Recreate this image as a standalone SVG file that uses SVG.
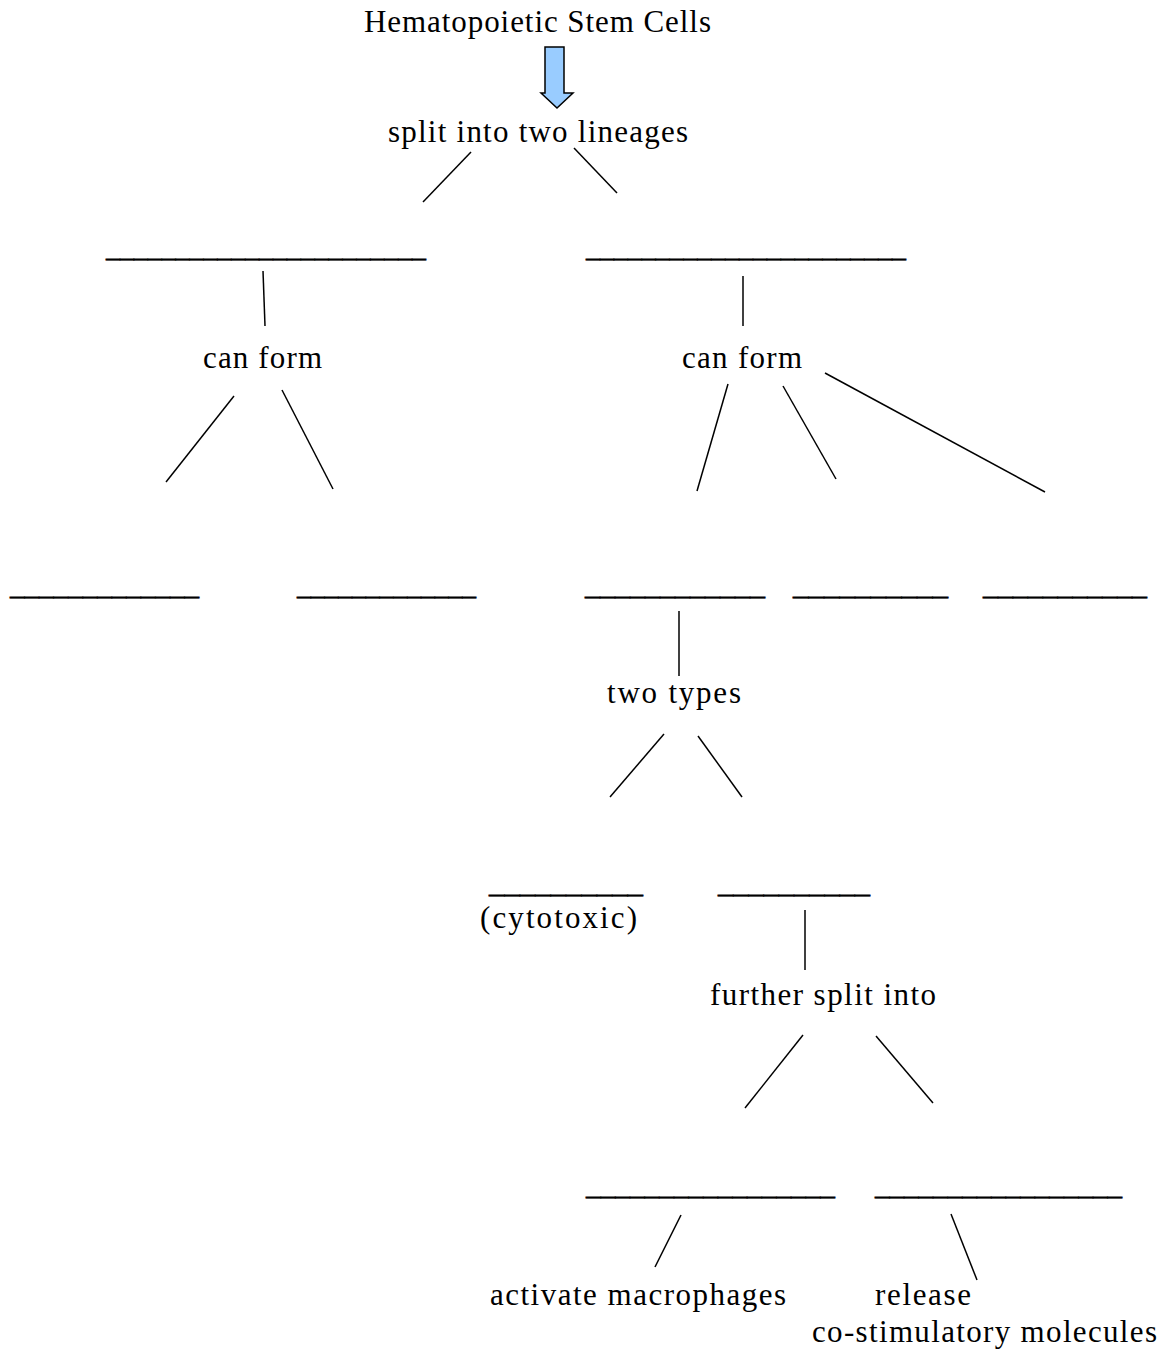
<svg xmlns="http://www.w3.org/2000/svg" width="1172" height="1350" viewBox="0 0 1172 1350">
<style>
  .t { font-family: "Liberation Serif", "DejaVu Serif", serif; font-size: 31px; fill: #000; }
  .u { font-family: "Liberation Serif", "DejaVu Serif", serif; font-size: 28px; fill: #000; stroke: #000; stroke-width: 0.6; }
  .c { stroke: #000; stroke-width: 1.5; fill: none; }
</style>
<rect width="1172" height="1350" fill="#fff"/>
<g id="hsc"><text class="t" x="364" y="32" textLength="347">Hematopoietic Stem Cells</text></g>
<g id="arrow"><polygon points="545,47 564,47 564,93 573,93 557,108 541,93 545,93" fill="#99ccff" stroke="#000" stroke-width="1.5" stroke-linejoin="miter"/></g>
<g id="split"><text class="t" x="388" y="142" textLength="300">split into two lineages</text></g>
<g id="blankL1"><text class="u" x="106" y="257" textLength="320" lengthAdjust="spacingAndGlyphs">_______________________</text></g>
<g id="blankR1"><text class="u" x="586" y="257" textLength="320" lengthAdjust="spacingAndGlyphs">_______________________</text></g>
<g id="canformL"><text class="t" x="203" y="368" textLength="119">can form</text></g>
<g id="canformR"><text class="t" x="682" y="368" textLength="120">can form</text></g>
<g id="blankA"><text class="u" x="10" y="595" textLength="189" lengthAdjust="spacingAndGlyphs">_____________</text></g>
<g id="blankB"><text class="u" x="297" y="595" textLength="179" lengthAdjust="spacingAndGlyphs">_____________</text></g>
<g id="blankC"><text class="u" x="585" y="595" textLength="180" lengthAdjust="spacingAndGlyphs">____________</text></g>
<g id="blankD"><text class="u" x="793" y="595" textLength="155" lengthAdjust="spacingAndGlyphs">__________</text></g>
<g id="blankE"><text class="u" x="983" y="595" textLength="164" lengthAdjust="spacingAndGlyphs">___________</text></g>
<g id="twotypes"><text class="t" x="607" y="703" textLength="134">two types</text></g>
<g id="blankF"><text class="u" x="489" y="893" textLength="154" lengthAdjust="spacingAndGlyphs">__________</text><text class="t" x="480" y="928" textLength="157">(cytotoxic)</text></g>
<g id="blankG"><text class="u" x="718" y="893" textLength="152" lengthAdjust="spacingAndGlyphs">__________</text></g>
<g id="further"><text class="t" x="710" y="1005" textLength="226">further split into</text></g>
<g id="blankH"><text class="u" x="586" y="1195" textLength="249" lengthAdjust="spacingAndGlyphs">_________________</text></g>
<g id="blankI"><text class="u" x="875" y="1195" textLength="247" lengthAdjust="spacingAndGlyphs">_________________</text></g>
<g id="activate"><text class="t" x="490" y="1305" textLength="296">activate macrophages</text></g>
<g id="release"><text class="t" x="875" y="1305" textLength="96">release</text><text class="t" x="812" y="1342" textLength="345">co-stimulatory molecules</text></g>
<g id="connectors">
  <line class="c" x1="471" y1="152" x2="423" y2="202"/>
  <line class="c" x1="574" y1="148" x2="617" y2="193"/>
  <line class="c" x1="263" y1="271" x2="265" y2="326"/>
  <line class="c" x1="743" y1="276" x2="743" y2="326"/>
  <line class="c" x1="234" y1="396" x2="166" y2="482"/>
  <line class="c" x1="282" y1="390" x2="333" y2="489"/>
  <line class="c" x1="728" y1="384" x2="697" y2="491"/>
  <line class="c" x1="783" y1="386" x2="836" y2="479"/>
  <line class="c" x1="825" y1="373" x2="1045" y2="492"/>
  <line class="c" x1="679" y1="611" x2="679" y2="676"/>
  <line class="c" x1="664" y1="734" x2="610" y2="797"/>
  <line class="c" x1="698" y1="736" x2="742" y2="797"/>
  <line class="c" x1="805" y1="910" x2="805" y2="970"/>
  <line class="c" x1="803" y1="1035" x2="745" y2="1108"/>
  <line class="c" x1="876" y1="1036" x2="933" y2="1103"/>
  <line class="c" x1="681" y1="1215" x2="655" y2="1267"/>
  <line class="c" x1="951" y1="1214" x2="977" y2="1280"/>
</g>
</svg>
